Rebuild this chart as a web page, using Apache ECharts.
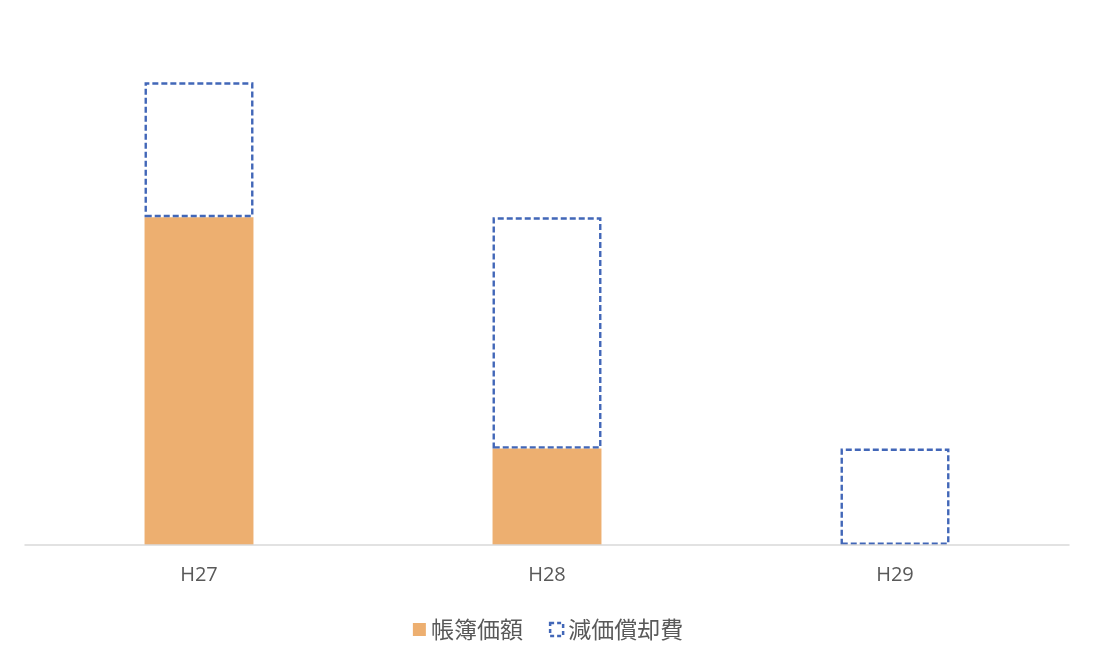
<!DOCTYPE html>
<html>
<head>
<meta charset="utf-8">
<script src="https://cdn.jsdelivr.net/npm/echarts@6/dist/echarts.min.js"></script>
<style>html,body{margin:0;padding:0;background:#fff}#c{width:1096px;height:664px}</style>
</head>
<body>
<div id="c"></div>
<script>
const categories = ['H27', 'H28', 'H29'];
const bookValue = [34, 10, 0];
const depreciation = [14, 24, 10];
const seriesNames = ['帳簿価額', '減価償却費'];

const chart = echarts.init(document.getElementById('c'));
chart.setOption({
  animation: false,
  textStyle: { fontFamily: '"Noto Sans CJK JP", "Noto Sans", sans-serif' },
  grid: { left: 25, right: 27, top: 63, bottom: 119 },
  legend: {
    bottom: 18,
    left: 'center',
    icon: 'rect',
    itemWidth: 13,
    itemHeight: 13,
    itemGap: 26,
    textStyle: { fontSize: 23, color: '#595959' },
    data: [
      { name: seriesNames[0] },
      { name: seriesNames[1], itemStyle: { color: '#fff', borderColor: '#4267B8', borderWidth: 2.5, borderType: [4, 3] } }
    ]
  },
  xAxis: {
    type: 'category',
    data: categories,
    z: 5,
    axisLine: { lineStyle: { color: '#d9d9d9', width: 1.5 } },
    axisTick: { show: false },
    axisLabel: { fontSize: 20, color: '#595959', margin: 20, fontFamily: '"Open Sans", sans-serif' }
  },
  yAxis: {
    type: 'value',
    min: 0,
    max: 50,
    show: false,
    splitLine: { show: false }
  },
  series: [
    {
      name: seriesNames[0],
      type: 'bar',
      stack: 'a',
      barWidth: '31.3%',
      data: bookValue,
      itemStyle: { color: '#EDAF70' }
    },
    {
      name: seriesNames[1],
      type: 'bar',
      stack: 'a',
      barWidth: '31.3%',
      data: depreciation,
      itemStyle: {
        color: 'rgba(255,255,255,0)',
        borderColor: '#4267B8',
        borderWidth: 2.4,
        borderType: [6, 3]
      }
    }
  ]
});
</script>
</body>
</html>
